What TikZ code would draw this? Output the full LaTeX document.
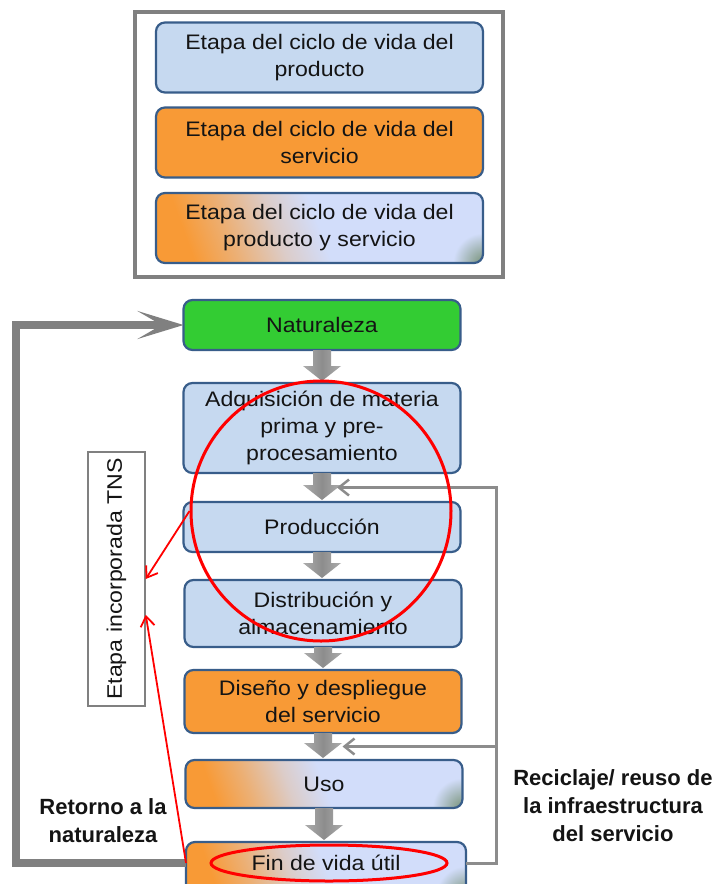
\documentclass[tikz,border=0pt]{standalone}
\usepackage{fontspec}
\setmainfont{Liberation Sans}[FakeStretch=1.1]
\newfontfamily\lblfont{Liberation Sans}
\usetikzlibrary{calc,arrows.meta,shapes.geometric}
\definecolor{lb}{RGB}{198,217,240}
\definecolor{bord}{RGB}{56,93,138}
\definecolor{org}{RGB}{248,154,54}
\definecolor{grn}{RGB}{51,204,51}
\definecolor{gry}{RGB}{128,128,128}
\definecolor{lgry}{RGB}{140,140,140}
\definecolor{gblue}{RGB}{210,221,250}
\definecolor{ggrn}{RGB}{118,145,118}
\definecolor{txt}{RGB}{20,20,20}
\pgfdeclarehorizontalshading{mixshade}{100bp}{color(0bp)=(org); color(25bp)=(org); color(33bp)=(org!68!gblue); color(42bp)=(org!25!gblue); color(50bp)=(gblue); color(100bp)=(gblue)}
\newcommand\blockarr[2]{%
  \shade[left color=gry!65, right color=gry!65, middle color=gry!110!black] let \p1=(#1.south), \p2=(#2.north) in
   (\x1-9pt,\y1) -- (\x1-9pt,\y2+17pt) -- (\x1-19pt,\y2+17pt) -- (\x1,\y2+2pt)
   -- (\x1+19pt,\y2+17pt) -- (\x1+9pt,\y2+17pt) -- (\x1+9pt,\y1) -- cycle;}
% mixed (product + service) box drawn from its upper-left and lower-right corners
\newcommand\mixbox[2]{%
  \path[shading=mixshade, shading angle=20, rounded corners=9pt] (#1) rectangle (#2);
  \begin{scope}
    \clip[rounded corners=9pt] (#1) rectangle (#2);
    \shade[inner color=ggrn, outer color=gblue] (#2) circle[radius=30pt];
  \end{scope}
  \draw[draw=bord, line width=2.2pt, rounded corners=9pt] (#1) rectangle (#2);}
\begin{document}
\begin{tikzpicture}[x=1pt,y=-1pt,
  box/.style={draw=bord, line width=2.2pt, rounded corners=9pt, align=center,
    text=txt, font=\fontsize{21}{27}\selectfont, inner sep=0pt, outer sep=0pt},
  legbox/.style={box, minimum width=327pt, minimum height=70pt},
  mainbox/.style={box, minimum width=277pt},
  plain/.style={text=txt, align=center, font=\fontsize{21}{27}\selectfont, inner sep=0pt, outer sep=0pt},
  lbl/.style={font=\lblfont\bfseries\fontsize{22}{28}\selectfont, align=center, text=txt},
  thickloop/.style={line width=8pt, draw=gry, -{Stealth[length=46pt,width=28pt,inset=24pt]}},
  thinloop/.style={line width=3pt, draw=lgry},
  thinarr/.style={thinloop, -{Straight Barb[length=10pt,width=16pt,line width=2.5pt 0]}},
  redarr/.style={draw=red, line width=1.8pt, -{Straight Barb[length=10pt,width=14pt,line width=1.8pt 0]}},
  redring/.style={draw=red, line width=3pt, inner sep=0pt}
]
\fill[white] (0,0) rectangle (716,884);
\useasboundingbox (0,0) rectangle (716,884);

% legend
\node[draw=gry, line width=4pt, minimum width=368pt, minimum height=265pt, inner sep=0pt] (frame) at (319,144.5) {};
\node[legbox, fill=lb] (leg1) at (319.5,57.5) {Etapa del ciclo de vida del\\producto};
\node[legbox, fill=org] (leg2) at (319.5,142.5) {Etapa del ciclo de vida del\\servicio};
\path (319.5,228) node[plain, minimum width=327pt, minimum height=70pt] (leg3) {};
\mixbox{leg3.north west}{leg3.south east}
\node[plain] at (leg3) {Etapa del ciclo de vida del\\producto y servicio};

% main flow
\node[mainbox, fill=grn, minimum height=50pt] (nat) at (322,325) {Naturaleza};
\node[mainbox, fill=lb, minimum height=90pt] (adq) at (322,428) {Adquisición de materia\\prima y pre-\\procesamiento};
\node[mainbox, fill=lb, minimum height=50pt] (prod) at (322,527) {Producción};
\node[mainbox, fill=lb, minimum height=67pt] (dist) at (323,613.5) {Distribución y\\almacenamiento};
\node[mainbox, fill=org, minimum height=63pt] (dis) at (323,701.5) {Diseño y despliegue\\del servicio};
\path (324,784) node[plain, minimum width=277pt, minimum height=48pt] (uso) {};
\mixbox{uso.north west}{uso.south east}
\node[plain] at (uso) {Uso};
% last box runs past the lower edge of the picture
\path (326,863) node[plain, minimum width=280pt, minimum height=42pt] (fin) {};
\coordinate (finlow) at ($(fin.south east)+(0,12)$);
\mixbox{fin.north west}{finlow}
\node[plain] at (fin) {Fin de vida útil};

\blockarr{nat}{adq}
\blockarr{adq}{prod}
\blockarr{prod}{dist}
\blockarr{dist}{dis}
\blockarr{dis}{uso}
\blockarr{uso}{fin}

% recycle loop
\coordinate (r1) at ($(adq.south)!0.5!(prod.north)+(15,0)$);
\coordinate (r2) at ($(dis.south)!0.5!(uso.north)+(19,0)$);
\coordinate (rc) at ($(fin.east)+(30,0)$);
\draw[thinarr] (fin.east) -- (rc) |- (r1);
\draw[thinarr] (rc |- r2) -- (r2);

% return loop
\coordinate (lc) at ($(fin.west)+(-170,0)$);
\draw[thickloop] (fin.west) -- (lc) |- (nat.west);

% TNS box
\node[draw=gry, line width=1.5pt, fill=white, rotate=90, minimum width=254pt, minimum height=57pt,
  inner sep=0pt, text=txt, font=\fontsize{21}{27}\selectfont] (tns) at (116.5,579) {Etapa incorporada TNS};

% labels
\node[lbl] (ret) at (103,821) {Retorno a la\\naturaleza};
\node[lbl] (rec) at (613,806) {Reciclaje/ reuso de\\la infraestructura\\del servicio};

% red marks
\node[redring, circle, minimum size=260pt] (circ) at (321,511) {};
\node[redring, ellipse, minimum width=236pt, minimum height=36pt] (ell) at (329,863) {};
\draw[redarr] (circ.west) -- (tns.south);
\draw[redarr] (fin.west) -- ($(tns.south)!0.28!(tns.south west)$);
\end{tikzpicture}
\end{document}
